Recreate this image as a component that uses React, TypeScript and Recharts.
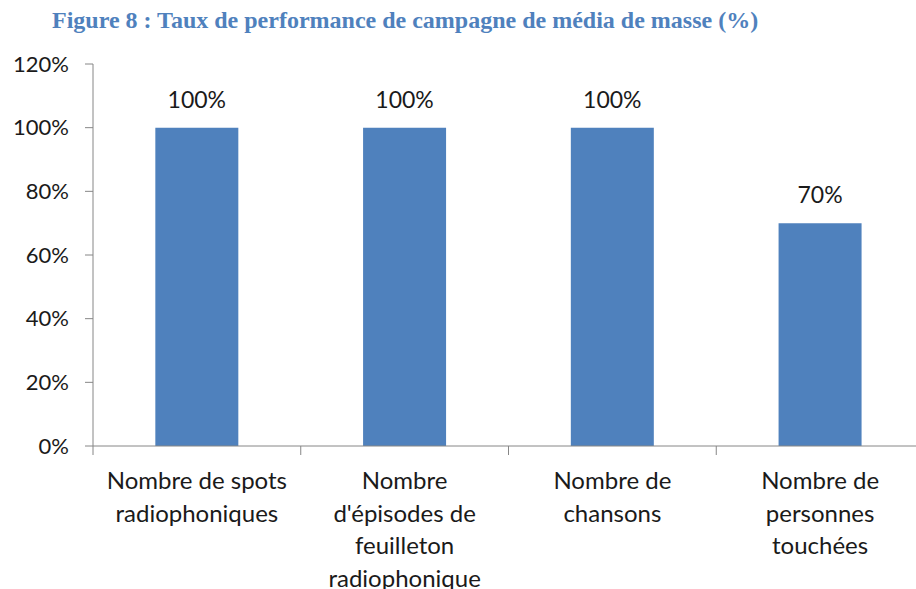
import { Bar, BarChart, LabelList, XAxis, YAxis } from "recharts";

const categories = [
	"Nombre de spots\nradiophoniques",
	"Nombre\nd'épisodes de\nfeuilleton\nradiophonique",
	"Nombre de\nchansons",
	"Nombre de\npersonnes\ntouchées",
];
const rates = [100, 100, 100, 70];
const yTicks = [0, 20, 40, 60, 80, 100, 120];

const chartData = categories.map((name, i) => ({ name, rate: rates[i] }));

const FONT = "Lato, 'Open Sans', sans-serif";
const AXIS = "#868686";
const TEXT = "#1a1a1a";

// category labels plus Excel-style tick marks between categories
function CategoryTick({ x, y, payload, index }: any) {
	const lines = String(payload.value).split("\n");
	const half = payload.offset || 0;
	return (
		<g>
			<line x1={x - half} x2={x - half} y1={y} y2={y + 9} stroke={AXIS} />
			{index === categories.length - 1 && (
				<line x1={x + half} x2={x + half} y1={y} y2={y + 9} stroke={AXIS} />
			)}
			<text x={x} y={y} textAnchor="middle" fill={TEXT} fontFamily={FONT} fontSize={24}>
				{lines.map((line, i) => (
					<tspan key={i} x={x} dy={i === 0 ? 43 : 32.5}>
						{line}
					</tspan>
				))}
			</text>
		</g>
	);
}

export default function App() {
	return (
		<div
			style={{
				position: "fixed",
				left: 0,
				top: 0,
				width: 916,
				height: 589,
				overflow: "hidden",
				background: "#fff",
			}}
		>
			<div
				style={{
					position: "absolute",
					left: 52,
					top: 7,
					fontFamily: "'Liberation Serif', 'Times New Roman', serif",
					fontWeight: "bold",
					fontSize: 24,
					color: "#4f81bd",
					whiteSpace: "nowrap",
				}}
			>
				Figure 8 : Taux de performance de campagne de média de masse (%)
			</div>
			<div style={{ position: "absolute", left: 0, top: 0 }}>
				<BarChart
					width={924}
					height={589}
					data={chartData}
					margin={{ top: 64, right: 0, bottom: 0, left: 0 }}
					barCategoryGap="30%"
				>
					<XAxis
						dataKey="name"
						height={143}
						axisLine={{ stroke: AXIS }}
						tickLine={false}
						tickSize={0}
						tickMargin={0}
						interval={0}
						tick={<CategoryTick />}
					/>
					<YAxis
						width={93}
						domain={[0, 120]}
						ticks={yTicks}
						interval={0}
						axisLine={{ stroke: AXIS }}
						tickLine={{ stroke: AXIS }}
						tickSize={8}
						tickMargin={16}
						tickFormatter={(v) => `${v}%`}
						tick={{ fill: TEXT, fontFamily: FONT, fontSize: 22 }}
					/>
					<Bar dataKey="rate" fill="#4f81bd" isAnimationActive={false}>
						<LabelList
							dataKey="rate"
							position="top"
							offset={20}
							formatter={(v: any) => `${v}%`}
							fill={TEXT}
							fontFamily={FONT}
							fontSize={23}
						/>
					</Bar>
				</BarChart>
			</div>
		</div>
	);
}
